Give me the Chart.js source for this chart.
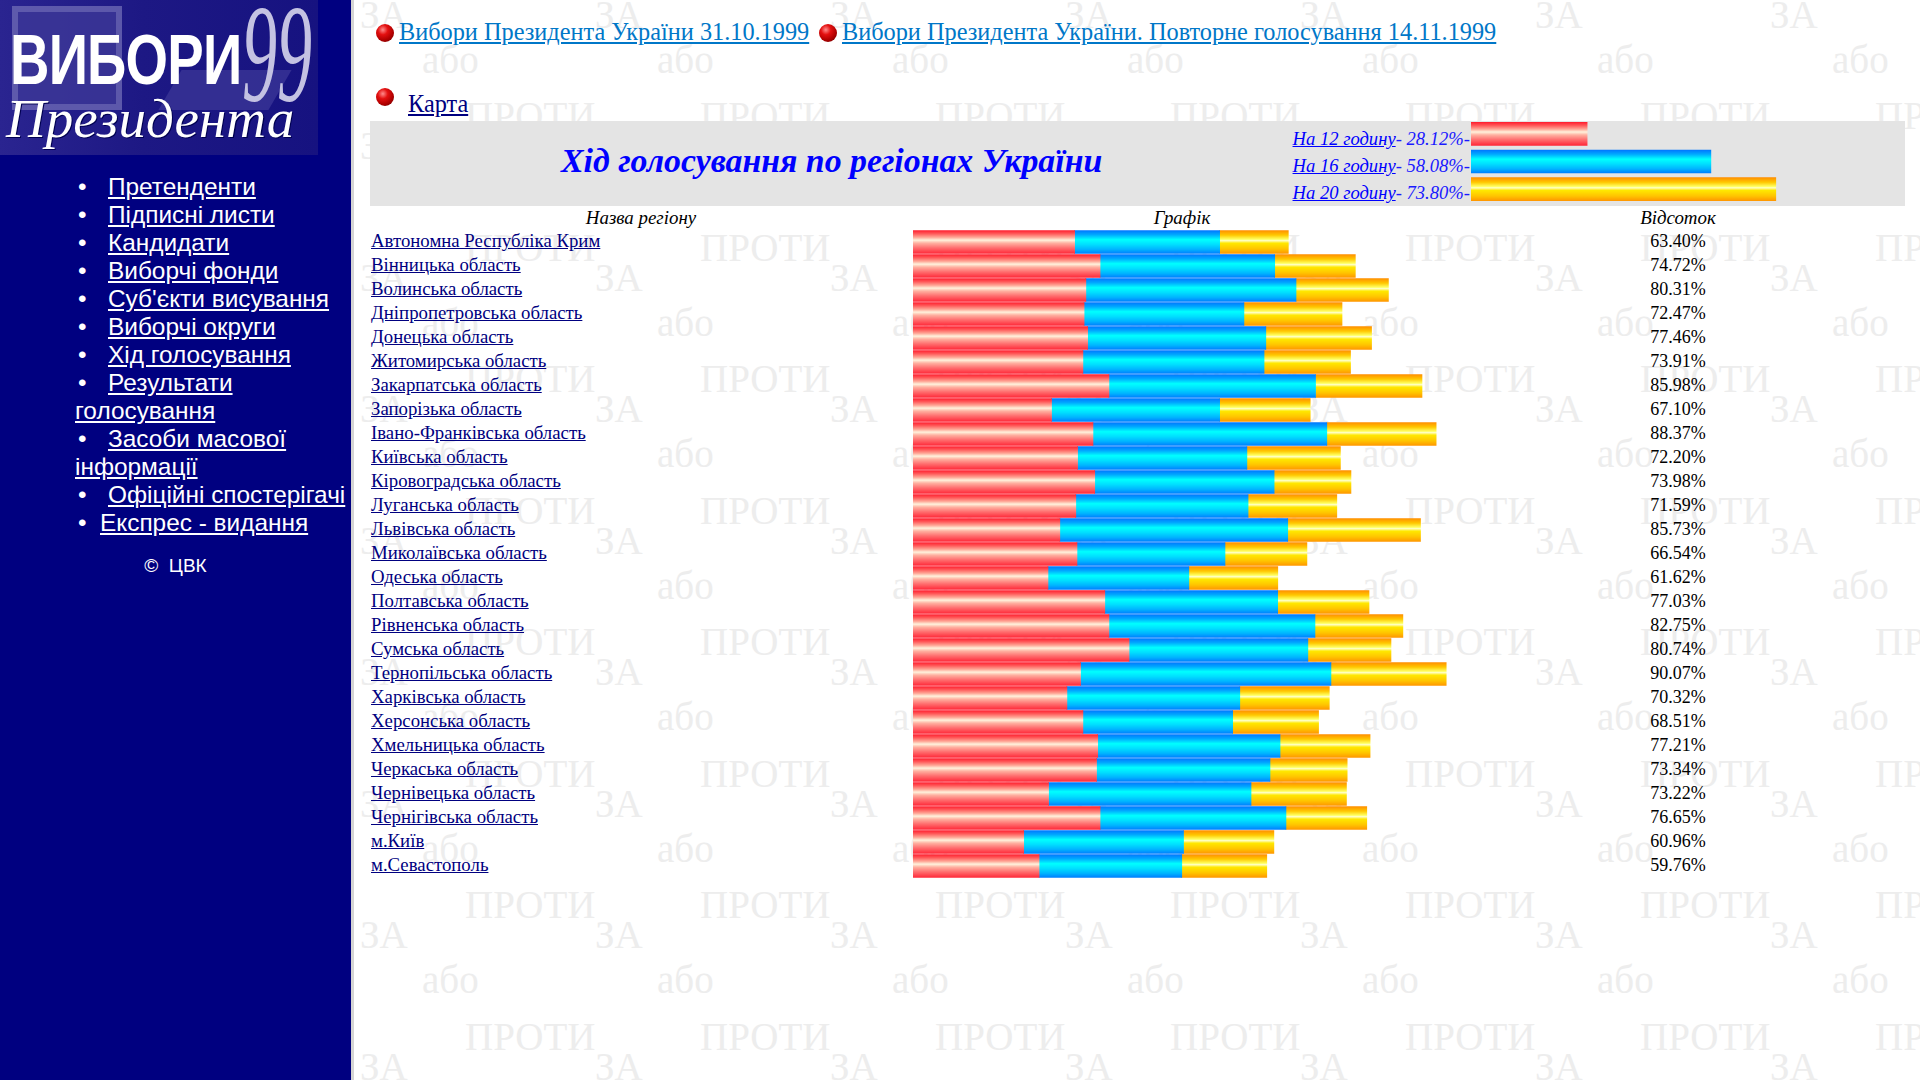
<!DOCTYPE html>
<html lang="uk">
<head>
<meta charset="utf-8">
<title>Хід голосування по регіонах України</title>
<script src="https://cdn.jsdelivr.net/npm/chart.js"></script>
<style>
  body { margin:0; width:1920px; height:1080px; overflow:hidden; background:#fff; position:relative; font-family:"Liberation Serif", "Times New Roman", serif; }
  .abs { position:absolute; white-space:nowrap; }
  #wm { position:absolute; left:354px; top:0; width:1566px; height:1080px; overflow:hidden; }
  #wm span { position:absolute; font:39px/39px "Liberation Serif", serif; color:#ededed; }
  #side { position:absolute; left:0; top:0; width:351px; height:1080px; background:#000080; border-right:3px solid #d4d4d4; }
  #logo { position:absolute; left:0; top:0; width:318px; height:155px; overflow:hidden;
          background:linear-gradient(90deg, #2a2490 0%, #1d1884 45%, #161280 100%); }
  #logo .mon { position:absolute; left:12px; top:6px; width:98px; height:92px; border:6px solid #6c68b4; background:#3d3898; opacity:.8; }
  #logo .kbd { position:absolute; left:170px; top:70px; width:110px; height:40px; background:#3a3496; transform:skewX(-30deg); opacity:.8; }
  #logo .vyb { position:absolute; left:10px; top:25px; font:bold 70px/70px "Liberation Sans", Arial, sans-serif; color:#fff; transform:scaleX(0.78); transform-origin:left top; letter-spacing:-1px; }
  #logo .n99 { position:absolute; left:242px; top:-16px; font:italic 140px/140px "Liberation Serif", serif; color:#c4c2e2; transform:scaleX(0.5); transform-origin:left top; }
  #logo .prez { position:absolute; left:6px; top:92px; font:italic 54px/54px "Liberation Serif", serif; color:#fff; transform:scaleX(1.02); transform-origin:left top; text-shadow:1px 1px 0 #000050; }
  #menu { position:absolute; left:75px; top:173px; font:24.4px/28px "Liberation Sans", Arial, sans-serif; color:#fff; }
  #menu div { white-space:nowrap; }
  #menu .dot { display:inline-block; width:30px; padding-left:3px; box-sizing:content-box; }
  #menu a { color:#fff; text-decoration:underline; }
  #copy { position:absolute; left:0; width:351px; top:556px; text-align:center; font:19px/19px "Liberation Sans", Arial, sans-serif; color:#fff; }
  .ball { position:absolute; width:18px; height:18px; border-radius:50%;
          background:radial-gradient(circle at 38% 32%, #ff8c8c 0, #e41010 30%, #b00000 62%, #5c0000 100%); }
  .toplink { font-size:24.3px; line-height:24px; color:#0077c8; text-decoration:underline; }
  #box { position:absolute; left:370px; top:121px; width:1535px; height:85px; background:#e4e4e4; }
  #title { font:italic bold 33.8px/32px "Liberation Serif", serif; color:#0000ff; }
  #legtext { font:italic 18.6px/27px "Liberation Serif", serif; color:#1a1aff; text-align:right; }
  #legtext u { color:#0000ff; }
  .hdr { font:italic 18.9px/24px "Liberation Serif", serif; color:#000; text-align:center; }
  .name { font:18.8px/24px "Liberation Serif", serif; color:#000080; text-decoration:underline; }
  .pct { font:18px/24px "Liberation Serif", serif; color:#000; text-align:center; width:200px; }
  canvas { position:absolute; }
</style>
</head>
<body>
<div id="wm"></div>

<div id="side">
  <div id="logo">
    <div class="mon"></div>
    <div class="kbd"></div>
    <span class="n99">99</span>
    <span class="vyb">ВИБОРИ</span>
    <span class="prez">Президента</span>
  </div>
  <div id="menu">
    <div><span class="dot">•</span><a>Претенденти</a></div>
    <div><span class="dot">•</span><a>Підписні листи</a></div>
    <div><span class="dot">•</span><a>Кандидати</a></div>
    <div><span class="dot">•</span><a>Виборчі фонди</a></div>
    <div><span class="dot">•</span><a>Суб'єкти висування</a></div>
    <div><span class="dot">•</span><a>Виборчі округи</a></div>
    <div><span class="dot">•</span><a>Хід голосування</a></div>
    <div><span class="dot">•</span><a>Результати<br>голосування</a></div>
    <div><span class="dot">•</span><a>Засоби масової<br>інформації</a></div>
    <div><span class="dot">•</span><a>Офіційні спостерігачі</a></div>
    <div><span class="dot" style="width:22px">•</span><a>Експрес - видання</a></div>
  </div>
  <div id="copy">©&nbsp; ЦВК</div>
</div>

<div class="ball" style="left:376px; top:24px"></div>
<div class="abs toplink" style="left:399px; top:20px">Вибори Президента України 31.10.1999</div>
<div class="ball" style="left:819px; top:24px"></div>
<div class="abs toplink" style="left:842px; top:20px">Вибори Президента України. Повторне голосування 14.11.1999</div>
<div class="ball" style="left:376px; top:88px"></div>
<div class="abs toplink" style="left:408px; top:92px; color:#000080">Карта</div>

<div id="box"></div>
<div id="title" class="abs" style="left:561px; top:145px">Хід голосування по регіонах України</div>
<div id="legtext" class="abs" style="right:450px; top:125px"></div>
<canvas id="legendChart" width="413" height="83" style="left:1471px; top:120px"></canvas>

<div class="abs hdr" style="left:370px; width:542px; top:206px">Назва регіону</div>
<div class="abs hdr" style="left:912px; width:540px; top:206px">Графік</div>
<div class="abs hdr" style="left:1578px; width:200px; top:206px">Відсоток</div>
<div id="rows"></div>
<canvas id="turnoutChart" width="592" height="648" style="left:913px; top:230px"></canvas>

<script>
  // явка по регіонах: на 12:00, на 16:00 і підсумкова (на 20:00)
  const regions = [
    'Автономна Республіка Крим', 'Вінницька область', 'Волинська область', 'Дніпропетровська область',
    'Донецька область', 'Житомирська область', 'Закарпатська область', 'Запорізька область',
    'Івано-Франківська область', 'Київська область', 'Кіровоградська область', 'Луганська область',
    'Львівська область', 'Миколаївська область', 'Одеська область', 'Полтавська область',
    'Рівненська область', 'Сумська область', 'Тернопільська область', 'Харківська область',
    'Херсонська область', 'Хмельницька область', 'Черкаська область', 'Чернівецька область',
    'Чернігівська область', 'м.Київ', 'м.Севастополь'
  ];
  const turnout12 = [27.3, 31.6, 29.2, 28.9, 29.5, 28.7, 33.1, 23.4, 30.4, 27.8, 30.7, 27.5, 24.8, 27.7,
                     22.8, 32.4, 33.1, 36.5, 28.3, 26.0, 28.7, 31.2, 31.0, 22.9, 31.6, 18.7, 21.3];
  const turnout16 = [51.8, 61.1, 64.7, 55.9, 59.6, 59.3, 68.0, 51.8, 69.9, 56.4, 61.0, 56.6, 63.3, 52.7,
                     46.6, 61.6, 67.9, 66.7, 70.6, 55.2, 54.0, 62.0, 60.3, 57.1, 63.0, 45.7, 45.4];
  const turnoutFinal = [63.40, 74.72, 80.31, 72.47, 77.46, 73.91, 85.98, 67.10, 88.37, 72.20, 73.98, 71.59, 85.73, 66.54,
                        61.62, 77.03, 82.75, 80.74, 90.07, 70.32, 68.51, 77.21, 73.34, 73.22, 76.65, 60.96, 59.76];

  // по Україні в цілому
  const hourLabels = ['На 12 годину', 'На 16 годину', 'На 20 годину'];
  const nationalTurnout = [28.12, 58.08, 73.80];

  const redStops = [[0, '#ff2030'], [0.14, '#ff5a5a'], [0.3, '#ffa898'], [0.42, '#fff2dc'], [0.55, '#ffb0a0'], [0.75, '#ff7070'], [1, '#ff2a3a']];
  const blueStops = [[0, '#0078ff'], [0.18, '#00a8ff'], [0.4, '#00ffff'], [0.6, '#00e0ff'], [0.82, '#00b4ff'], [1, '#0080ff']];
  const yellowStops = [[0, '#ff9000'], [0.2, '#ffc800'], [0.38, '#ffff60'], [0.44, '#ffffc8'], [0.55, '#ffe800'], [0.8, '#ffc400'], [1, '#ff9800']];

  // watermark ПРОТИ / ЗА / або
  const wm = document.getElementById('wm');
  for (let ty = -131.5; ty < 1080; ty += 131.5) {
    for (let tx = 0; tx < 1566; tx += 235) {
      [['ЗА', 6, 27.5], ['або', 68, 72.5], ['ПРОТИ', 111, 129]].forEach(([t, dx, base]) => {
        const s = document.createElement('span');
        s.textContent = t;
        s.style.left = (tx + dx) + 'px';
        s.style.top = (ty + base - 32.7) + 'px';
        wm.appendChild(s);
      });
    }
  }

  document.getElementById('legtext').innerHTML = hourLabels
    .map((h, i) => `<u>${h}</u>- ${nationalTurnout[i].toFixed(2)}%-`).join('<br>');

  let rowsHtml = '';
  regions.forEach((r, i) => {
    const top = 229 + i * 24;
    rowsHtml += `<div class="abs name" style="left:371px; top:${top}px">${r}</div>`;
    rowsHtml += `<div class="abs pct" style="left:1578px; top:${top}px">${turnoutFinal[i].toFixed(2)}%</div>`;
  });
  document.getElementById('rows').innerHTML = rowsHtml;

  function barFill(stops, thickness) {
    return function (c) {
      const ys = c.chart.scales.y;
      if (!ys || c.dataIndex === undefined) return stops[1][1];
      const yc = ys.getPixelForValue(c.dataIndex);
      if (!isFinite(yc)) return stops[1][1];
      const g = c.chart.ctx.createLinearGradient(0, yc - thickness / 2, 0, yc + thickness / 2);
      stops.forEach(s => g.addColorStop(s[0], s[1]));
      return g;
    };
  }

  const quiet = {
    responsive: false,
    animation: false,
    indexAxis: 'y',
    layout: { padding: 0 },
    plugins: { legend: { display: false }, tooltip: { enabled: false } },
    events: []
  };

  const turnoutChart = new Chart(document.getElementById('turnoutChart'), {
    type: 'bar',
    data: {
      labels: regions,
      datasets: [
        { data: turnout12, backgroundColor: barFill(redStops, 23) },
        { data: turnout16.map((v, i) => +(v - turnout12[i]).toFixed(2)), backgroundColor: barFill(blueStops, 23) },
        { data: turnoutFinal.map((v, i) => +(v - turnout16[i]).toFixed(2)), backgroundColor: barFill(yellowStops, 23) }
      ]
    },
    options: Object.assign({}, quiet, {
      datasets: { bar: { barThickness: 23, borderWidth: 0 } },
      scales: {
        x: { stacked: true, min: 0, max: 100, display: false },
        y: { stacked: true, display: false }
      }
    })
  });

  const legendStops = [redStops, blueStops, yellowStops];
  const legendChart = new Chart(document.getElementById('legendChart'), {
    type: 'bar',
    data: {
      labels: hourLabels,
      datasets: [{
        data: nationalTurnout,
        backgroundColor: c => barFill(legendStops[c.dataIndex] || redStops, 23)(c)
      }]
    },
    options: Object.assign({}, quiet, {
      datasets: { bar: { barThickness: 23, borderWidth: 0 } },
      scales: {
        x: { min: 0, max: 100, display: false },
        y: { display: false }
      }
    })
  });

  turnoutChart.update();
  legendChart.update();
</script>
</body>
</html>
